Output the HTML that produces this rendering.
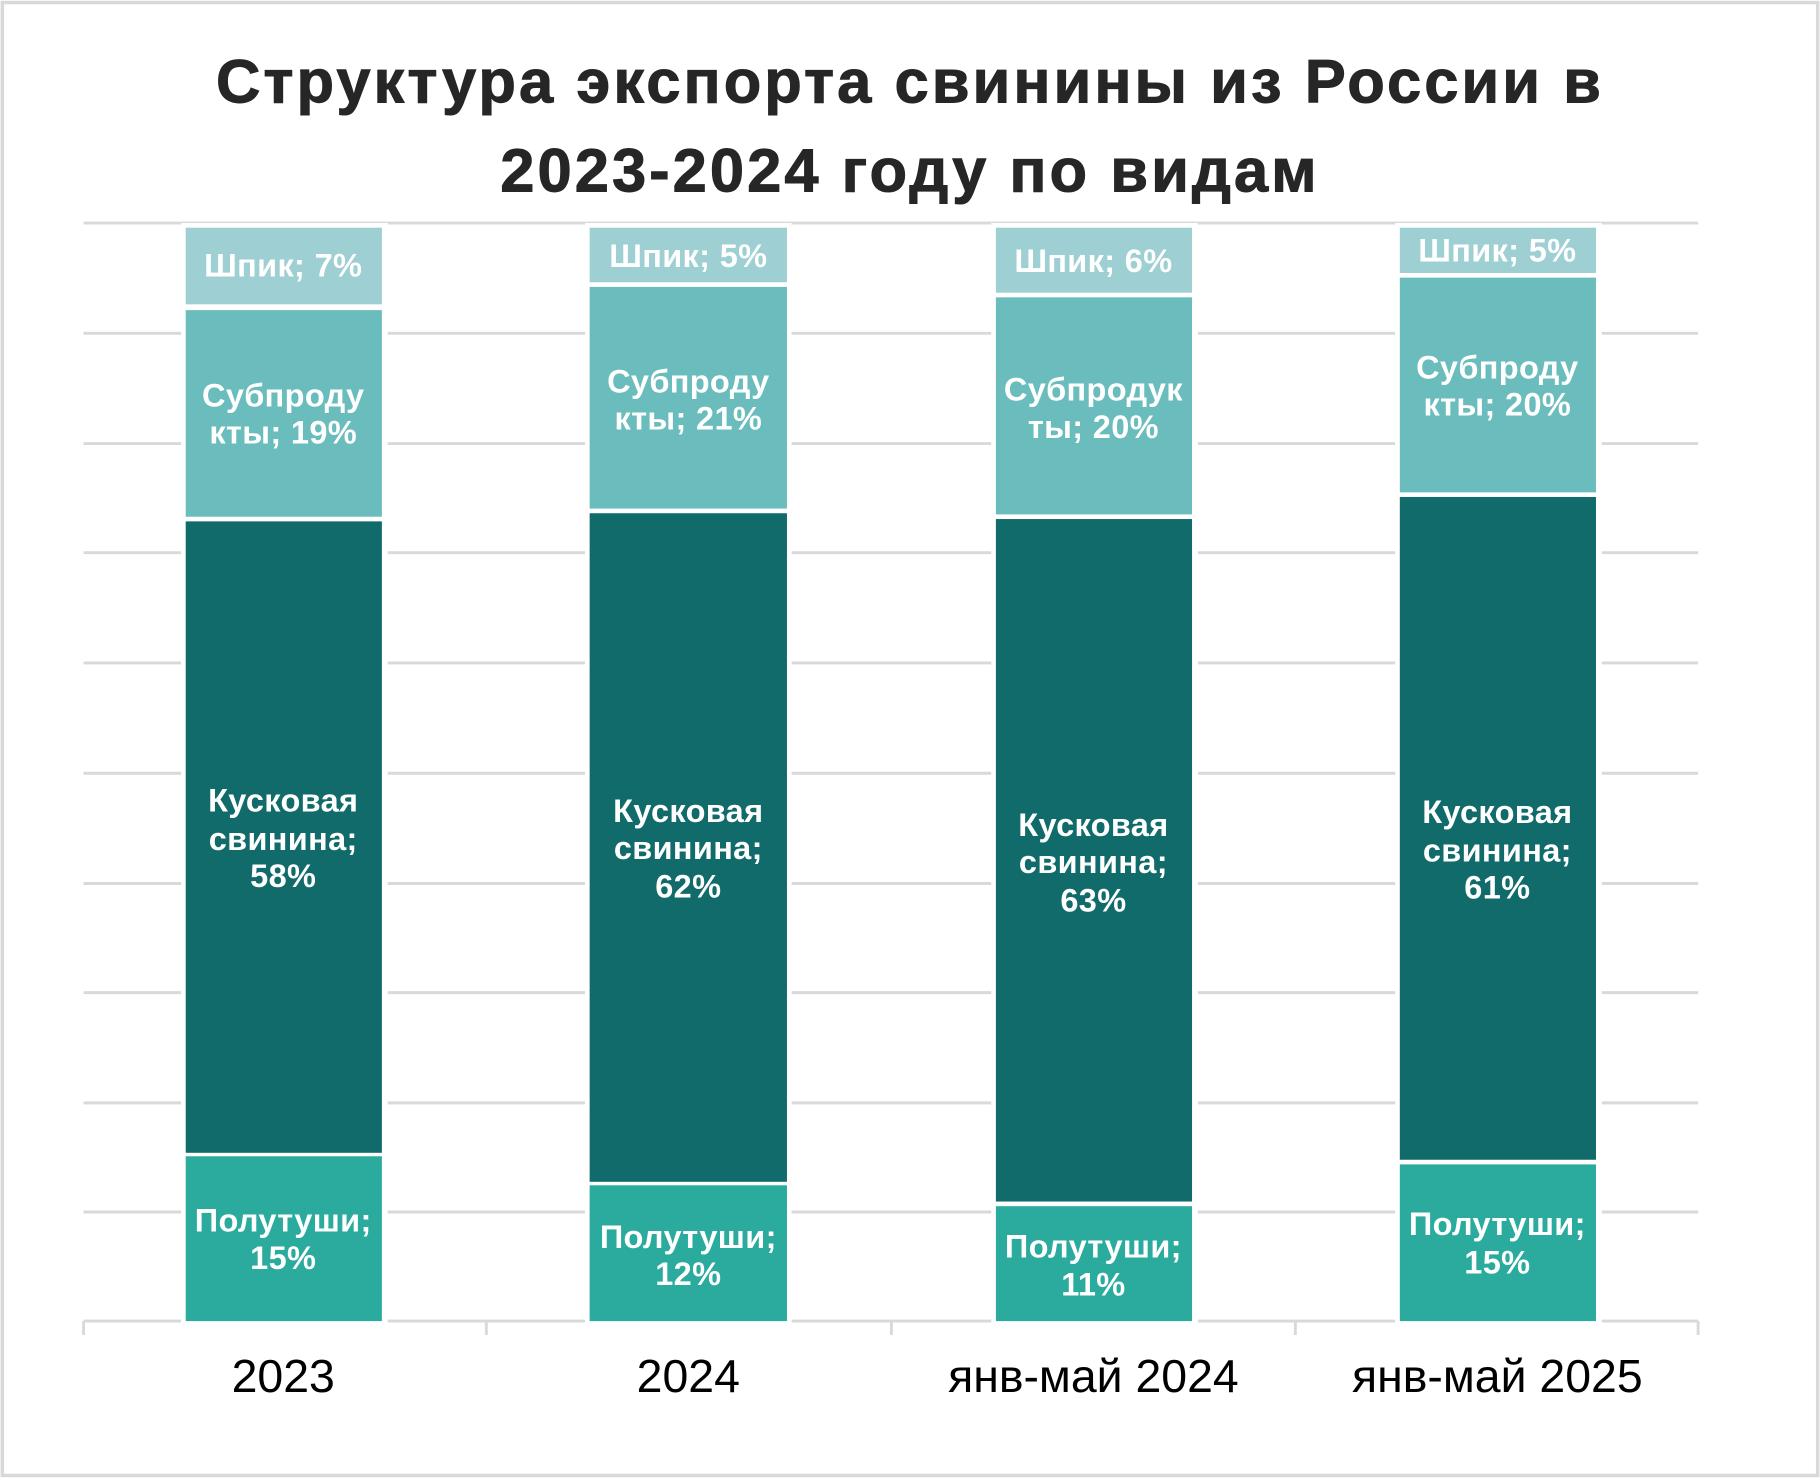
<!DOCTYPE html>
<html><head><meta charset="utf-8"><style>
html,body{margin:0;padding:0;background:#fff;}
svg{display:block;}
text{font-family:"Liberation Sans","DejaVu Sans",sans-serif;}
</style></head><body>
<svg width="1820" height="1478" viewBox="0 0 1568 1273" xmlns="http://www.w3.org/2000/svg">
<rect x="0" y="0" width="1568" height="1273" fill="#fff"/>
<rect x="2" y="2" width="1564" height="1269" fill="none" stroke="#d9d9d9" stroke-width="3"/>
<g font-weight="bold" font-size="53" fill="#262626" text-anchor="middle" letter-spacing="2.6" stroke="#262626" stroke-width="0.8">
<text x="784" y="88">Структура экспорта свинины из России в</text>
<text x="784" y="165">2023-2024 году по видам</text>
</g>
<g stroke="#d9d9d9" stroke-width="2.5">
<line x1="72" x2="1463" y1="192" y2="192"/>
<line x1="72" x2="1463" y1="287" y2="287"/>
<line x1="72" x2="1463" y1="382" y2="382"/>
<line x1="72" x2="1463" y1="476" y2="476"/>
<line x1="72" x2="1463" y1="571" y2="571"/>
<line x1="72" x2="1463" y1="666" y2="666"/>
<line x1="72" x2="1463" y1="761" y2="761"/>
<line x1="72" x2="1463" y1="855" y2="855"/>
<line x1="72" x2="1463" y1="950" y2="950"/>
<line x1="72" x2="1463" y1="1044" y2="1044"/>
<line x1="72" x2="1463" y1="1138" y2="1138"/>
<line x1="72" x2="72" y1="1138" y2="1150"/>
<line x1="419" x2="419" y1="1138" y2="1150"/>
<line x1="768" x2="768" y1="1138" y2="1150"/>
<line x1="1116" x2="1116" y1="1138" y2="1150"/>
<line x1="1463" x2="1463" y1="1138" y2="1150"/>
</g>
<g>
<rect x="156" y="192" width="178" height="950" fill="#fff"/>
<rect x="160" y="996" width="169" height="142" fill="#2aab9e"/>
<rect x="160" y="449" width="169" height="544" fill="#116b6b"/>
<rect x="160" y="267" width="169" height="178" fill="#6bbdbd"/>
<rect x="160" y="196" width="169" height="66" fill="#9dcfd3"/>
<rect x="504" y="192" width="178" height="950" fill="#fff"/>
<rect x="508" y="1021" width="170" height="117" fill="#2aab9e"/>
<rect x="508" y="442" width="170" height="576" fill="#116b6b"/>
<rect x="508" y="247" width="170" height="191" fill="#6bbdbd"/>
<rect x="508" y="196" width="170" height="47" fill="#9dcfd3"/>
<rect x="854" y="192" width="178" height="950" fill="#fff"/>
<rect x="858" y="1039" width="169" height="99" fill="#2aab9e"/>
<rect x="858" y="447" width="169" height="588" fill="#116b6b"/>
<rect x="858" y="256" width="169" height="187" fill="#6bbdbd"/>
<rect x="858" y="196" width="169" height="56" fill="#9dcfd3"/>
<rect x="1202" y="192" width="178" height="950" fill="#fff"/>
<rect x="1206" y="1003" width="169" height="135" fill="#2aab9e"/>
<rect x="1206" y="428" width="169" height="571" fill="#116b6b"/>
<rect x="1206" y="239" width="169" height="185" fill="#6bbdbd"/>
<rect x="1206" y="196" width="169" height="39" fill="#9dcfd3"/>
</g>
<g font-weight="bold" font-size="28" fill="#fff" text-anchor="middle" letter-spacing="0.3">
<text x="244" y="238">Шпик; 7%</text>
<text x="244" y="350">Субпроду</text><text x="244" y="382">кты; 19%</text>
<text x="244" y="699">Кусковая</text><text x="244" y="732">свинина;</text><text x="244" y="764">58%</text>
<text x="244" y="1061">Полутуши;</text><text x="244" y="1093">15%</text>

<text x="593" y="230">Шпик; 5%</text>
<text x="593" y="338">Субпроду</text><text x="593" y="370">кты; 21%</text>
<text x="593" y="708">Кусковая</text><text x="593" y="740">свинина;</text><text x="593" y="773">62%</text>
<text x="593" y="1075">Полутуши;</text><text x="593" y="1107">12%</text>

<text x="942" y="234">Шпик; 6%</text>
<text x="942" y="345">Субпродук</text><text x="942" y="377">ты; 20%</text>
<text x="942" y="720">Кусковая</text><text x="942" y="752">свинина;</text><text x="942" y="785">63%</text>
<text x="942" y="1083">Полутуши;</text><text x="942" y="1116">11%</text>

<text x="1290" y="225">Шпик; 5%</text>
<text x="1290" y="326">Субпроду</text><text x="1290" y="358">кты; 20%</text>
<text x="1290" y="709">Кусковая</text><text x="1290" y="742">свинина;</text><text x="1290" y="774">61%</text>
<text x="1290" y="1064">Полутуши;</text><text x="1290" y="1097">15%</text>
</g>
<g font-size="40" fill="#000" text-anchor="middle">
<text x="244" y="1199">2023</text>
<text x="593" y="1199">2024</text>
<text x="942" y="1199">янв-май 2024</text>
<text x="1290" y="1199">янв-май 2025</text>
</g>
</svg>
</body></html>
